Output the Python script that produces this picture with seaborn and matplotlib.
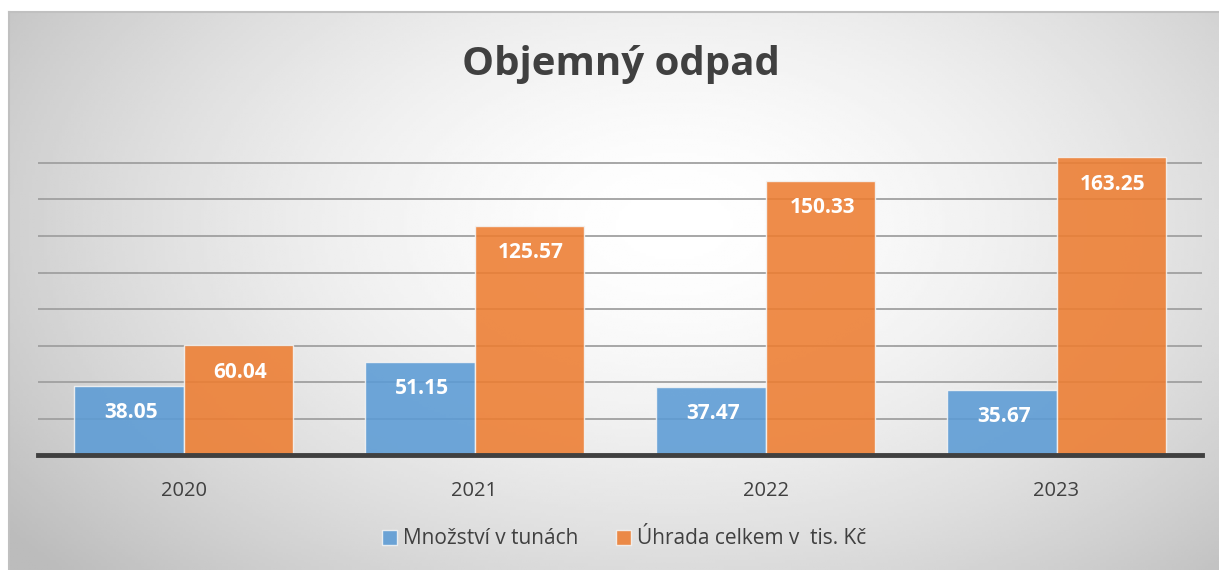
import numpy as np
import pandas as pd
import matplotlib
matplotlib.use('Agg')
import matplotlib.pyplot as plt
import seaborn as sns

years = ['2020', '2021', '2022', '2023']
mnozstvi = [38.05, 51.15, 37.47, 35.67]
uhrada = [60.04, 125.57, 150.33, 163.25]
seriesNames = ['Množství v tunách', 'Úhrada celkem v  tis. Kč']

sns.set_theme(style='white')
plt.rcParams['font.family'] = ['Open Sans', 'DejaVu Sans']

df = pd.DataFrame({
  'rok': years * 2,
  'hodnota': mnozstvi + uhrada,
  'serie': [seriesNames[0]] * 4 + [seriesNames[1]] * 4,
})

fig = plt.figure(figsize=(12.19, 5.70), dpi=100)
fig.patch.set_facecolor('white')

# radial gradient background panel
bg = fig.add_axes([9/1219, 0, 1 - 9/1219, 1 - 12/570], zorder=0)
gx, gy = np.meshgrid(np.linspace(0, 1, 400), np.linspace(0, 1, 200))
r = np.sqrt(((gx - 0.55) / 0.6)**2 + ((gy - 0.62) / 0.8)**2)
shade = 1 - 0.21 * np.clip(r, 0, 1.15)**1.6
bg.imshow(shade, cmap='gray', vmin=0, vmax=1, aspect='auto',
          extent=[0, 1, 0, 1], origin='lower')
bg.set_xticks([])
bg.set_yticks([])
for side in ['right', 'bottom']:
  bg.spines[side].set_visible(False)
for side in ['left', 'top']:
  bg.spines[side].set_color('#c0c0c0')
  bg.spines[side].set_linewidth(1.5)

ax = fig.add_axes([38/1219, 115/570, 1164/1219, 328.5/570], zorder=1)
ax.patch.set_alpha(0)
palette = ['#5B9BD5', '#ED7D31']
sns.barplot(data=df, x='rok', y='hodnota', hue='serie', palette=palette,
            saturation=1, width=0.75, gap=0, alpha=0.88, edgecolor='#f4f4f4',
            linewidth=1, ax=ax, legend=False, zorder=3)

ax.set_xlim(-0.5, 3.5)
ax.set_ylim(0, 180)
ax.set_yticks(np.arange(20, 161, 20))
ax.set_yticklabels([])
ax.tick_params(axis='y', length=0)
ax.yaxis.grid(True, color='#a0a0a0', linewidth=1.3)
ax.set_axisbelow(True)
ax.set_xlabel('')
ax.set_ylabel('')
ax.tick_params(axis='x', length=0, labelsize=14.5, labelcolor='#404040', pad=19)
for side in ['left', 'right', 'top']:
  ax.spines[side].set_visible(False)
ax.spines['bottom'].set_color('#404040')
ax.spines['bottom'].set_linewidth(3.5)
ax.spines['bottom'].set_zorder(5)

for cont in ax.containers:
  for rect in cont:
    h = rect.get_height()
    ax.annotate('{:.2f}'.format(h), (rect.get_x() + rect.get_width() / 2, h),
                xytext=(2, -27), textcoords='offset pixels', ha='center',
                va='center', color='white', fontsize=15, fontweight='bold',
                zorder=6)

handles = [plt.Rectangle((0, 0), 1, 1, facecolor=c, alpha=0.88,
                         edgecolor='#f4f4f4') for c in palette]
fig.legend(handles, seriesNames, loc='center', bbox_to_anchor=(0.512, 31/570),
           ncol=2, frameon=False, fontsize=15, handlelength=0.7,
           handleheight=0.7, handletextpad=0.3, columnspacing=1.8,
           labelcolor='#404040')

fig.text(0.509, 1 - 64/570, 'Objemný odpad', ha='center', va='center',
         fontsize=29, fontweight='bold', color='#404040')

fig.savefig('out.png', dpi=100)
